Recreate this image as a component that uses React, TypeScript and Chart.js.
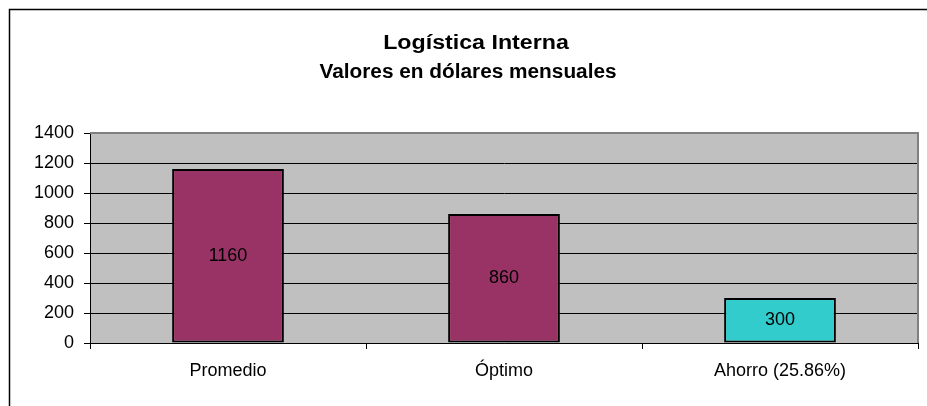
import React, { useEffect, useRef } from "react";
import { Chart, registerables } from "chart.js";

Chart.register(...registerables);

const titleLines = ["Logística Interna", "Valores en dólares mensuales"];
const categories = ["Promedio", "Óptimo", "Ahorro (25.86%)"];
const values = [1160, 860, 300];
const barColors = ["#993366", "#993366", "#33CCCC"];
const yMin = 0;
const yMax = 1400;
const yStep = 200;

const FONT = '"Liberation Sans", Arial, sans-serif';

const framePlugin = {
  id: "frameAndBg",
  beforeDraw(chart: any) {
    const { ctx, chartArea } = chart;
    ctx.save();
    ctx.fillStyle = "#ffffff";
    ctx.fillRect(0, 0, chart.width, chart.height);
    ctx.strokeStyle = "#000000";
    ctx.lineWidth = 1.5;
    ctx.strokeRect(9.5, 9.5, chart.width + 20, chart.height + 20);
    ctx.fillStyle = "#C0C0C0";
    ctx.fillRect(chartArea.left, chartArea.top, chartArea.right - chartArea.left, chartArea.bottom - chartArea.top);
    ctx.restore();
  },
  beforeDatasetsDraw(chart: any) {
    const { ctx, chartArea } = chart;
    ctx.save();
    ctx.strokeStyle = "#808080";
    ctx.lineWidth = 2;
    ctx.beginPath();
    ctx.moveTo(chartArea.left, chartArea.top);
    ctx.lineTo(chartArea.right, chartArea.top);
    ctx.lineTo(chartArea.right, chartArea.bottom);
    ctx.stroke();
    ctx.restore();
  },
  afterDatasetsDraw(chart: any) {
    const { ctx } = chart;
    const meta = chart.getDatasetMeta(0);
    ctx.save();
    ctx.fillStyle = "#000000";
    ctx.font = `18px ${FONT}`;
    ctx.textAlign = "center";
    ctx.textBaseline = "middle";
    meta.data.forEach((el: any, i: number) => {
      const v = chart.data.datasets[0].data[i];
      ctx.fillText(String(v), el.x, (el.y + el.base) / 2);
    });
    ctx.restore();
  },
  afterDraw(chart: any) {
    const { ctx } = chart;
    ctx.save();
    ctx.fillStyle = "#000000";
    ctx.font = `bold 20px ${FONT}`;
    ctx.textAlign = "center";
    ctx.textBaseline = "alphabetic";
    const baselines = [49, 78];
    const centers = [476, 468];
    const stretch = [1.16, 1.04];
    titleLines.forEach((t, i) => {
      ctx.save();
      ctx.translate(centers[i], baselines[i]);
      ctx.scale(stretch[i], 1);
      ctx.fillText(t, 0, 0);
      ctx.restore();
    });
    ctx.restore();
  },
};

export default function App() {
  const ref = useRef<HTMLCanvasElement>(null);
  useEffect(() => {
    if (!ref.current) return;
    const chart = new Chart(ref.current, {
      type: "bar",
      data: {
        labels: categories,
        datasets: [
          {
            data: values,
            backgroundColor: barColors,
            borderColor: "#000000",
            borderWidth: 2,
            borderSkipped: false,
            categoryPercentage: 1,
            barPercentage: 0.405,
          },
        ],
      },
      options: {
        animation: false,
        responsive: true,
        maintainAspectRatio: false,
        layout: { padding: { top: 133, right: 9, left: 0, bottom: 0 } },
        plugins: {
          legend: { display: false },
          title: { display: false },
          tooltip: { enabled: false },
        },
        scales: {
          x: {
            offset: true,
            grid: {
              offset: true,
              drawOnChartArea: false,
              drawTicks: true,
              tickLength: 6,
              color: "#000000",
              tickColor: "#000000",
            },
            border: { color: "#000000", width: 1 },
            ticks: {
              color: "#000000",
              font: { family: FONT, size: 18 },
              padding: 11,
              maxRotation: 0,
            },
            afterFit(scale: any) {
              scale.height = 63;
            },
          },
          y: {
            min: yMin,
            max: yMax,
            grid: {
              color: (c: any) => (c.tick && c.tick.value === yMax ? "#808080" : "#000000"),
              tickColor: "#000000",
              tickLength: 6,
              lineWidth: 1,
            },
            border: { color: "#000000", width: 1 },
            ticks: {
              stepSize: yStep,
              color: "#000000",
              font: { family: FONT, size: 18 },
              padding: 10,
              callback: (v: any) => String(v),
            },
            afterFit(scale: any) {
              scale.width = 90;
            },
          },
        },
      },
      plugins: [framePlugin],
    });
    return () => chart.destroy();
  }, []);
  return (
    <div style={{ position: "absolute", left: 0, top: 0, width: 927, height: 406 }}>
      <canvas ref={ref} />
    </div>
  );
}
